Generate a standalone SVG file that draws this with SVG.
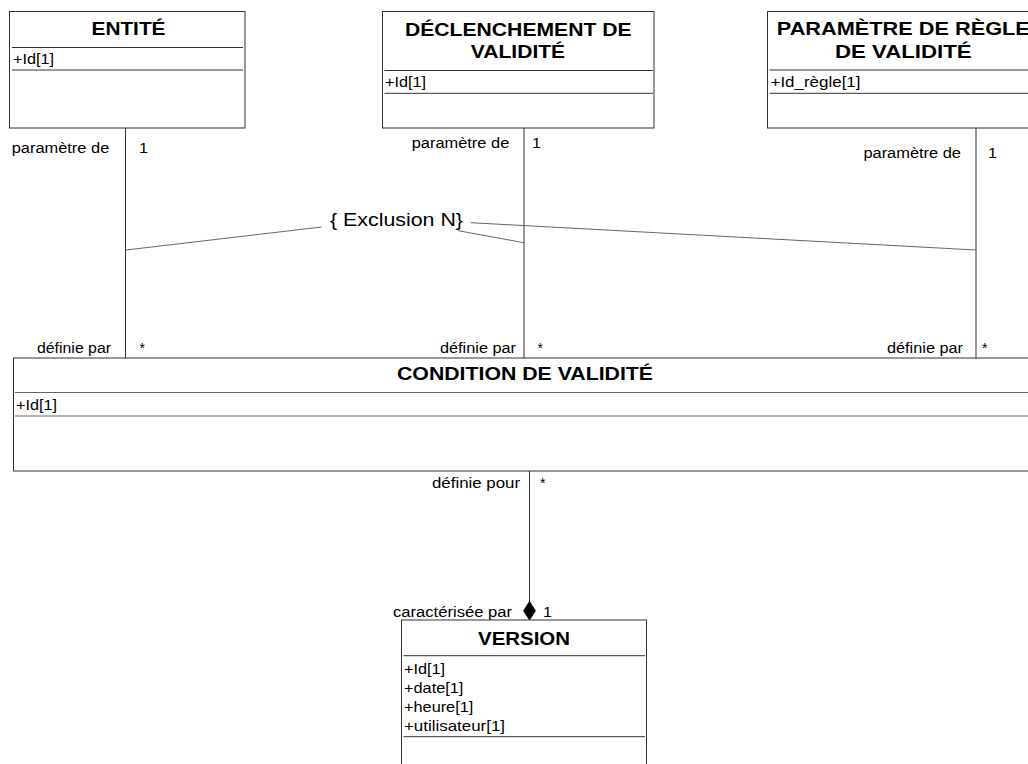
<svg xmlns="http://www.w3.org/2000/svg" width="1028" height="764" viewBox="0 0 1028 764">
  <style>
    .box { fill: #fff; stroke: #333; stroke-width: 1; }
    .sep { stroke: #333; stroke-width: 1; }
    .sepg { stroke: #666; stroke-width: 1.2; }
    .title { font-family: "Liberation Sans", Arial, sans-serif; font-weight: bold; font-size: 18px; fill: #000; text-anchor: middle; }
    .attr { font-family: "Liberation Sans", Arial, sans-serif; font-size: 14px; fill: #000; }
    .lbl { font-family: "Liberation Sans", Arial, sans-serif; font-size: 14px; fill: #000; }
    .end { text-anchor: end; }
    .assoc { stroke: #333; stroke-width: 1; fill: none; }
    .constr { stroke: #666; stroke-width: 1; fill: none; }
    .cst { font-family: "Liberation Sans", Arial, sans-serif; font-size: 18px; fill: #000; }
  </style>
  <rect width="1028" height="764" fill="#fff"/>

  <!-- associations -->
  <g id="connectors">
    <line class="assoc" x1="125.5" y1="128" x2="125.5" y2="358"/>
    <line class="assoc" x1="524" y1="128" x2="524" y2="358"/>
    <line class="assoc" x1="976" y1="128" x2="976" y2="358"/>
    <line class="assoc" x1="529.5" y1="471" x2="529.5" y2="602"/>
    <polygon points="529.5,601.5 523.5,610.8 529.5,620 535.5,610.8" fill="#000" stroke="#000" stroke-width="0.8"/>

    <!-- role names and multiplicities -->
    <text class="lbl end" x="109.3" y="152.7" textLength="97.6" lengthAdjust="spacingAndGlyphs">paramètre de</text>
    <text class="lbl" x="139" y="152.7" textLength="9" lengthAdjust="spacingAndGlyphs">1</text>
    <text class="lbl end" x="509.3" y="147.7" textLength="97.6" lengthAdjust="spacingAndGlyphs">paramètre de</text>
    <text class="lbl" x="532" y="147.7" textLength="9" lengthAdjust="spacingAndGlyphs">1</text>
    <text class="lbl end" x="961" y="158.3" textLength="97.6" lengthAdjust="spacingAndGlyphs">paramètre de</text>
    <text class="lbl" x="988" y="158.3" textLength="9" lengthAdjust="spacingAndGlyphs">1</text>

    <text class="lbl end" x="111" y="353" textLength="74" lengthAdjust="spacingAndGlyphs">définie par</text>
    <text class="lbl" x="139.5" y="353">*</text>
    <text class="lbl end" x="516" y="353" textLength="76" lengthAdjust="spacingAndGlyphs">définie par</text>
    <text class="lbl" x="537.5" y="353">*</text>
    <text class="lbl end" x="963" y="353" textLength="76" lengthAdjust="spacingAndGlyphs">définie par</text>
    <text class="lbl" x="982" y="353">*</text>

    <text class="lbl end" x="520" y="488" textLength="88" lengthAdjust="spacingAndGlyphs">définie pour</text>
    <text class="lbl" x="540" y="488">*</text>
    <text class="lbl end" x="512" y="616.7" textLength="119" lengthAdjust="spacingAndGlyphs">caractérisée par</text>
    <text class="lbl" x="543" y="616.7" textLength="9" lengthAdjust="spacingAndGlyphs">1</text>

    <!-- exclusion constraint -->
    <line class="constr" x1="126" y1="250" x2="321.5" y2="227"/>
    <line class="constr" x1="458" y1="230.7" x2="524" y2="242.7"/>
    <line class="constr" x1="470.7" y1="222.7" x2="976" y2="250"/>
    <text class="cst" x="330" y="226" textLength="133" lengthAdjust="spacingAndGlyphs">{ Exclusion N}</text>
  </g>

  <!-- ENTITÉ -->
  <g id="entite">
    <rect class="box" x="9.5" y="11.5" width="235.5" height="116.5"/>
    <text class="title" x="128.5" y="35" textLength="74" lengthAdjust="spacingAndGlyphs">ENTITÉ</text>
    <line class="sep" x1="12" y1="47.5" x2="243" y2="47.5"/>
    <text class="attr" x="13" y="64" textLength="41" lengthAdjust="spacingAndGlyphs">+Id[1]</text>
    <line class="sep" x1="12" y1="70" x2="243" y2="70"/>
  </g>

  <!-- DÉCLENCHEMENT DE VALIDITÉ -->
  <g id="declenchement">
    <rect class="box" x="382.5" y="11.5" width="271.5" height="116.5"/>
    <text class="title" x="518.3" y="35.7" textLength="226.7" lengthAdjust="spacingAndGlyphs">DÉCLENCHEMENT DE</text>
    <text class="title" x="518" y="58.3" textLength="94.3" lengthAdjust="spacingAndGlyphs">VALIDITÉ</text>
    <line class="sep" x1="384.5" y1="70.5" x2="653" y2="70.5"/>
    <text class="attr" x="385" y="87" textLength="41" lengthAdjust="spacingAndGlyphs">+Id[1]</text>
    <line class="sep" x1="384.5" y1="93.3" x2="653" y2="93.3"/>
  </g>

  <!-- PARAMÈTRE DE RÈGLE DE VALIDITÉ -->
  <g id="parametre">
    <rect class="box" x="767.5" y="11.5" width="272" height="116.5"/>
    <text class="title" x="903.3" y="35" textLength="253" lengthAdjust="spacingAndGlyphs">PARAMÈTRE DE RÈGLE</text>
    <text class="title" x="903.3" y="58.3" textLength="136.7" lengthAdjust="spacingAndGlyphs">DE VALIDITÉ</text>
    <line class="sep" x1="769.5" y1="70" x2="1028" y2="70"/>
    <text class="attr" x="770.5" y="86.5" textLength="90" lengthAdjust="spacingAndGlyphs">+Id_règle[1]</text>
    <line class="sep" x1="769.5" y1="93.3" x2="1028" y2="93.3"/>
  </g>

  <!-- CONDITION DE VALIDITÉ -->
  <g id="condition">
    <rect class="box" x="13.5" y="358" width="1030" height="113" stroke="#555"/>
    <text class="title" x="525" y="380" textLength="256" lengthAdjust="spacingAndGlyphs">CONDITION DE VALIDITÉ</text>
    <line class="sepg" x1="15" y1="392.5" x2="1028" y2="392.5"/>
    <text class="attr" x="16" y="410" textLength="41" lengthAdjust="spacingAndGlyphs">+Id[1]</text>
    <line class="sepg" x1="15" y1="416" x2="1028" y2="416"/>
  </g>

  <!-- VERSION -->
  <g id="version">
    <rect class="box" x="401.5" y="620" width="245" height="160"/>
    <text class="title" x="524" y="645" textLength="92" lengthAdjust="spacingAndGlyphs">VERSION</text>
    <line class="sep" x1="403.5" y1="655.7" x2="645" y2="655.7"/>
    <text class="attr" x="404" y="674" textLength="41" lengthAdjust="spacingAndGlyphs">+Id[1]</text>
    <text class="attr" x="404" y="693" textLength="59.4" lengthAdjust="spacingAndGlyphs">+date[1]</text>
    <text class="attr" x="404" y="712" textLength="69.3" lengthAdjust="spacingAndGlyphs">+heure[1]</text>
    <text class="attr" x="404" y="731" textLength="101" lengthAdjust="spacingAndGlyphs">+utilisateur[1]</text>
    <line class="sep" x1="403.5" y1="736.7" x2="645" y2="736.7"/>
  </g>
</svg>
